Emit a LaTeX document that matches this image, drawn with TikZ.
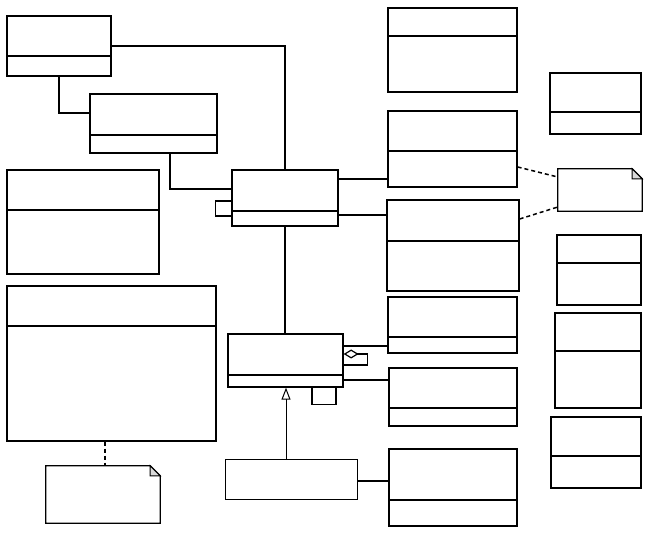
\documentclass[tikz,border=0pt]{standalone}
\usepackage{tikz}
\usetikzlibrary{arrows.meta}
\definecolor{gray}{rgb}{0.5,0.5,0.5}

\begin{document}
\begin{tikzpicture}[
x = 1pt, y = -1pt,
class/.style 2 args = {draw, line width = 1.3pt, inner sep = 0pt, minimum width = #1, minimum height = #2},
note/.style 2 args = {inner sep = 0pt, minimum width = #1, minimum height = #2},
link/.style = {line width = 1.2pt},
depend/.style = {line width = 1.5pt, dash pattern = on 4pt off 3pt}
]
\useasboundingbox (0,0) rectangle (651,534);

% left column
\node[class={104pt}{60pt}] (clsA) at (59,46) {};
\node[class={127pt}{59pt}] (clsB) at (153.5,123.5) {};
\node[class={152pt}{104pt}] (clsC) at (83,222) {};
\node[class={209pt}{155pt}] (clsD) at (111.5,363.5) {};
\node[note={114pt}{57pt}] (noteA) at (103,494.5) {};

% middle
\node[class={106pt}{56pt}] (clsE) at (285,198) {};
\node[class={115pt}{53pt}] (clsF) at (285.5,360.5) {};
\node[class={132pt}{40pt}, line width = 1pt] (clsG) at (291,480) {};

% right column
\node[class={129pt}{84pt}] (clsR1) at (452.5,50) {};
\node[class={129pt}{76pt}] (clsR2) at (452.5,149) {};
\node[class={132pt}{91pt}] (clsR3) at (453,245.5) {};
\node[class={129pt}{56pt}] (clsR4) at (452.5,325) {};
\node[class={128pt}{58pt}] (clsR5) at (453,397) {};
\node[class={128pt}{77pt}] (clsR6) at (453,487.5) {};

% far right
\node[class={91pt}{61pt}] (clsS1) at (595.5,103.5) {};
\node[note={84pt}{42pt}] (noteB) at (600,190) {};
\node[class={84pt}{70pt}] (clsS2) at (599,270) {};
\node[class={86pt}{95pt}] (clsS3) at (598,360.5) {};
\node[class={90pt}{71pt}] (clsS4) at (596,452.5) {};

% compartments
\draw[line width=1.3pt] (clsA.west |- 0,56) -- (clsA.east |- 0,56);
\draw[line width=1.3pt] (clsB.west |- 0,135) -- (clsB.east |- 0,135);
\draw[line width=1.3pt] (clsC.west |- 0,210) -- (clsC.east |- 0,210);
\draw[line width=1.3pt] (clsD.west |- 0,326) -- (clsD.east |- 0,326);
\draw[line width=1.3pt] (clsE.west |- 0,211) -- (clsE.east |- 0,211);
\draw[line width=1.3pt] (clsF.west |- 0,375) -- (clsF.east |- 0,375);
\draw[line width=1.3pt] (clsR1.west |- 0,36) -- (clsR1.east |- 0,36);
\draw[line width=1.3pt] (clsR2.west |- 0,151) -- (clsR2.east |- 0,151);
\draw[line width=1.3pt] (clsR3.west |- 0,241) -- (clsR3.east |- 0,241);
\draw[line width=1.3pt] (clsR4.west |- 0,337) -- (clsR4.east |- 0,337);
\draw[line width=1.3pt] (clsR5.west |- 0,408) -- (clsR5.east |- 0,408);
\draw[line width=1.3pt] (clsR6.west |- 0,500) -- (clsR6.east |- 0,500);
\draw[line width=1.3pt] (clsS1.west |- 0,112) -- (clsS1.east |- 0,112);
\draw[line width=1.3pt] (clsS2.west |- 0,263) -- (clsS2.east |- 0,263);
\draw[line width=1.3pt] (clsS3.west |- 0,351) -- (clsS3.east |- 0,351);
\draw[line width=1.3pt] (clsS4.west |- 0,456) -- (clsS4.east |- 0,456);

% notes with folded corner
\foreach \n in {noteA, noteB} {
  \draw[line width=1.3pt] (\n.north west) -- ([xshift=-10pt]\n.north east)
    -- ([yshift=-10pt]\n.north east) -- (\n.south east) -- (\n.south west) -- cycle;
  \draw[line width=1pt, fill=gray!30] ([xshift=-10pt]\n.north east)
    -- ([xshift=-10pt, yshift=-10pt]\n.north east) -- ([yshift=-10pt]\n.north east) -- cycle;
}

% connectors
\draw[link] (clsE.north) |- (clsA.east);
\draw[link] (clsA.south) |- (clsB.west |- 0,113);
\draw[link] (clsB.south -| 170,0) |- (clsE.west |- 0,189);
\draw[link] (clsE.west |- 0,201) -- ++(-16,0) -- ++(0,15) -- (clsE.west |- 0,216);
\draw[link] (clsE.east |- 0,179) -- (clsR2.west |- 0,179);
\draw[link] (clsE.east |- 0,215) -- (clsR3.west |- 0,215);
\draw[link, line width=1.4pt] (clsE.south) -- (clsE.south |- clsF.north);
\draw[link] (clsF.east |- 0,346) -- (clsR4.west |- 0,346);
\draw[link, {Diamond[open, length=15pt, width=9pt]}-] (clsF.east |- 0,354) -- ++(24,0) -- ++(0,11) -- (clsF.east |- 0,365);
\draw[link] (clsF.east |- 0,380) -- (clsR5.west |- 0,380);
\draw[link] (clsF.south -| 312,0) -- ++(0,17) -- ++(24,0) -- (clsF.south -| 336,0);
\draw[link, line width=1pt, -{Triangle[open, length=12pt, width=9pt]}] (clsG.north -| 286,0) -- (clsF.south -| 286,0);
\draw[link] (clsG.east |- 0,481) -- (clsR6.west |- 0,481);
\draw[depend] (clsR2.east |- 0,167) -- (noteB.west |- 0,177);
\draw[depend] (clsR3.east |- 0,219) -- (noteB.west |- 0,207);
\draw[depend] (clsD.south -| 105,0) -- (noteA.north -| 105,0);
\end{tikzpicture}
\end{document}
